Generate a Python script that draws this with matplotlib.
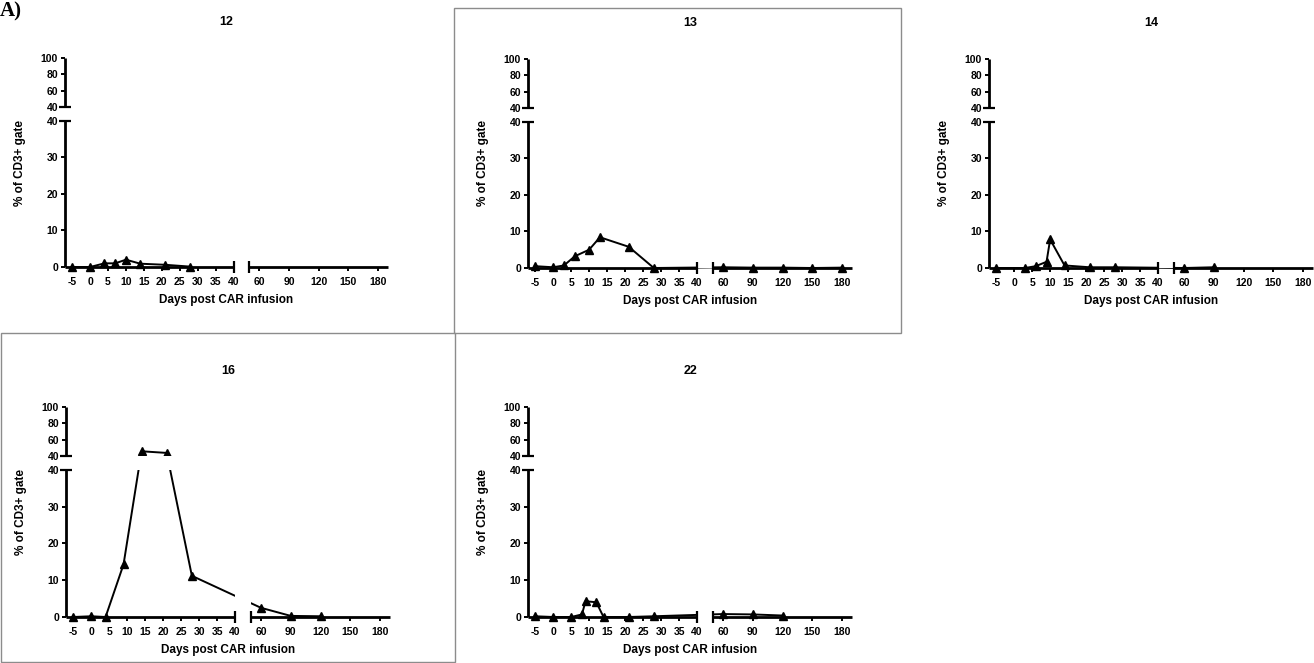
import matplotlib
matplotlib.use('Agg')
import matplotlib.pyplot as plt
from matplotlib.patches import Rectangle
import numpy as np

plt.rcParams['font.family'] = ['Liberation Sans', 'DejaVu Sans']
plt.rcParams['font.weight'] = 'bold'

# data (days post infusion, % of CD3+ gate)
titles = ['12', '13', '14', '16', '22']

days_12 = [-5, 0, 4, 7, 10, 14, 21, 28]
vals_12 = [0, 0, 1.0, 1.0, 2.0, 0.9, 0.6, 0.1]

days_13 = [-5, 0, 3, 6, 10, 13, 21, 28, 60, 90, 120, 150, 180]
vals_13 = [0.5, 0.2, 0.7, 3.2, 5.0, 8.4, 5.8, 0.0, 0.2, 0.1, 0.1, 0.0, 0.1]

days_14 = [-5, 3, 6, 9, 10, 14, 21, 28, 60, 90]
vals_14 = [0, 0, 0.5, 1.7, 7.8, 0.7, 0.2, 0.2, 0, 0.2]

days_16 = [-5, 0, 4, 9, 14, 21, 28, 60, 90, 120]
vals_16 = [0, 0.2, 0, 14.3, 46, 44, 11.2, 2.5, 0.3, 0.2]

days_22 = [-5, 0, 5, 8, 9, 12, 14, 21, 28, 60, 90, 120]
vals_22 = [0.2, 0, 0, 0.7, 4.3, 4.0, 0, 0, 0.2, 0.8, 0.7, 0.4]

xticks_left = [-5, 0, 5, 10, 15, 20, 25, 30, 35, 40]
xticks_right = [60, 90, 120, 150, 180]
yticks_low = [0, 10, 20, 30, 40]
yticks_high = [40, 60, 80, 100]

# broken axis geometry
XB, XR0 = 40, 50        # x break: left segment ends at 40, right starts at 50
XGAP, XR = 4.45, 0.276  # gap width (left units) and right segment scale
YB = 40
YGAP, YR = 3.73, 0.223
XMIN, XMAX = -7, 190


def xfwd(d):
    d = np.asarray(d, float)
    return np.where(d <= XB, d,
                    np.where(d < XR0, XB + (d - XB) / (XR0 - XB) * XGAP,
                             XB + XGAP + (d - XR0) * XR))


def xinv(t):
    t = np.asarray(t, float)
    return np.where(t <= XB, t,
                    np.where(t < XB + XGAP, XB + (t - XB) / XGAP * (XR0 - XB),
                             XR0 + (t - XB - XGAP) / XR))


def yfwd(v):
    v = np.asarray(v, float)
    return np.where(v <= YB, v, YB + YGAP + (v - YB) * YR)


def yinv(t):
    t = np.asarray(t, float)
    return np.where(t <= YB, t,
                    np.where(t < YB + YGAP, YB, YB + (t - YB - YGAP) / YR))


W, H = 1314, 663
fig = plt.figure(figsize=(W / 100, H / 100), dpi=100)

# axes boxes in pixels: left, top, right, bottom
boxes = [(65, 58, 388, 267), (528, 59, 852, 268), (989, 59, 1313, 268),
         (66, 407, 390, 617), (528, 407, 852, 617)]
series = [(days_12, vals_12), (days_13, vals_13), (days_14, vals_14),
          (days_16, vals_16), (days_22, vals_22)]

TOP40 = YB + 1e-4
for (l, t, r, b), title, (dd, vv) in zip(boxes, titles, series):
    w, h = r - l, b - t
    ax = fig.add_axes([l / W, 1 - b / H, w / W, h / H])
    ax.set_xscale('function', functions=(xfwd, xinv))
    ax.set_yscale('function', functions=(yfwd, yinv))
    ax.set_xlim(XMIN, XMAX)
    ax.set_ylim(0, 100)
    for s in ax.spines.values():
        s.set_visible(False)

    ax.set_xticks(xticks_left + xticks_right)
    ax.set_xticklabels([str(v) for v in xticks_left + xticks_right])
    ax.set_xticks([], minor=True)
    ylocs = yticks_low + [TOP40] + yticks_high[1:]
    ax.set_yticks(ylocs)
    ax.set_yticklabels([str(v) for v in yticks_low + yticks_high])
    ax.set_yticks([], minor=True)
    ax.tick_params(axis='x', length=3, width=1.4, pad=4, labelsize=7.5)
    ax.tick_params(axis='y', length=3, width=1.4, pad=2, labelsize=7.5)

    # data
    ax.plot(dd, vv, color='black', lw=1.4, marker='^', ms=6,
            clip_on=False, zorder=3)

    # blank out the breaks
    ax.axvspan(XB, XR0, color='white', lw=0, zorder=3.5)
    ax.axhspan(YB, TOP40, color='white', lw=0, zorder=3.5)

    # axis segments with break caps
    ak = dict(color='black', lw=2, clip_on=False, zorder=5, solid_capstyle='butt')
    ax.plot([XMIN, XB], [0, 0], **ak)
    ax.plot([XR0, XMAX], [0, 0], **ak)
    ax.plot([XMIN, XMIN], [0, YB], **ak)
    ax.plot([XMIN, XMIN], [TOP40, 100], **ak)
    ax.plot([XB, XR0], [0, 0], ls='none', marker='|', ms=8, mew=1.6,
            color='black', clip_on=False, zorder=5)
    ax.plot([XMIN, XMIN], [YB, TOP40], ls='none', marker='_', ms=8, mew=1.6,
            color='black', clip_on=False, zorder=5)

    ax.set_xlabel('Days post CAR infusion', fontsize=8.5, fontweight='bold')
    ax.xaxis.label.set_va('center')
    ax.xaxis.set_label_coords(0.5, -33 / h)
    ax.set_ylabel('% of CD3+ gate', fontsize=8.5, fontweight='bold')
    ax.yaxis.label.set_va('center')
    ax.yaxis.set_label_coords(-45 / w, 0.5)
    ax.text(0.5, 1 + 36 / h, title, transform=ax.transAxes, ha='center',
            va='center', fontsize=9, fontweight='bold')

# grey frames around two of the panels
for (x0, y0, x1, y1) in [(454, 8, 901, 333), (1, 333, 455, 662)]:
    fig.patches.append(Rectangle((x0 / W, 1 - y1 / H), (x1 - x0) / W, (y1 - y0) / H,
                                 transform=fig.transFigure, fill=False,
                                 edgecolor='#8c8c8c', lw=1))

fig.text(0.0, 1 - 1 / H, 'A)', ha='left', va='top', fontsize=15, fontweight='bold',
         family=['Liberation Serif', 'DejaVu Serif'])

fig.savefig('out.png', dpi=100)
